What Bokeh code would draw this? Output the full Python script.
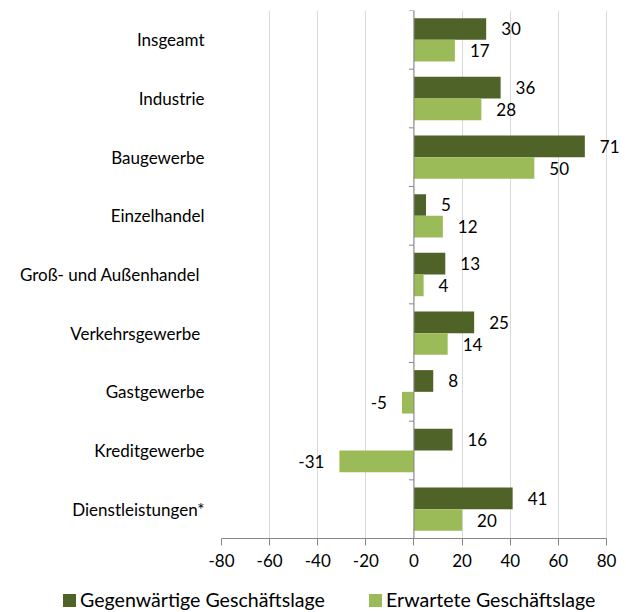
from bokeh.plotting import figure
from bokeh.layouts import column
from bokeh.models import (ColumnDataSource, LabelSet, Span, Div,
                          FixedTicker, Range1d, FactorRange)
from bokeh.transform import dodge
from bokeh.core.properties import value
from bokeh.embed import file_html
from bokeh.resources import INLINE

# ---------------- data ----------------
categories = ["Insgeamt", "Industrie", "Baugewerbe", "Einzelhandel",
              "Groß- und Außenhandel ", "Verkehrsgewerbe ", "Gastgewerbe",
              "Kreditgewerbe", "Dienstleistungen*"]
current = [30, 36, 71, 5, 13, 25, 8, 16, 41]
expected = [17, 28, 50, 12, 4, 14, -5, -31, 20]
x_ticks = [-80, -60, -40, -20, 0, 20, 40, 60, 80]
series_names = ["Gegenwärtige Geschäftslage", "Erwartete Geschäftslage"]

# ---------------- style ----------------
DARK = "#4F6228"
LIGHT = "#9BBB59"
AXIS = "#868686"
GRID = "#D9D9D9"
FONT = "Lato"
BAR_H = 0.37
OFF = BAR_H / 2
X_PAD = 7.9  # empty room right of the axis end for the value labels

p = figure(width=626, height=575, output_backend="svg", toolbar_location=None,
           x_range=Range1d(x_ticks[0], x_ticks[-1] + X_PAD),
           y_range=FactorRange(factors=list(reversed(categories))),
           min_border_left=221, min_border_right=1, min_border_top=10,
           min_border_bottom=37)
p.outline_line_color = None
p.background_fill_color = "white"

src = ColumnDataSource(dict(cat=categories, cur=current, exp=expected))

r1 = p.hbar(y=dodge("cat", OFF, range=p.y_range), left=0, right="cur",
            height=BAR_H, source=src, fill_color=DARK, line_color=None)
r2 = p.hbar(y=dodge("cat", -OFF, range=p.y_range), left=0, right="exp",
            height=BAR_H, source=src, fill_color=LIGHT, line_color=None)

# zero axis line with small ticks at category boundaries
p.add_layout(Span(location=0, dimension="height", line_color=AXIS, line_width=1))
p.segment(x0=-2.1, x1=0, y0=dodge("cat", 0.5, range=p.y_range),
          y1=dodge("cat", 0.5, range=p.y_range), source=src,
          line_color=AXIS, line_width=1)

# value labels
def add_labels(vals, off):
    for sign in (1, -1):
        cats = [c for c, v in zip(categories, vals) if (v >= 0) == (sign > 0)]
        vs = [v for v in vals if (v >= 0) == (sign > 0)]
        s = ColumnDataSource(dict(cat=cats, v=vs, t=[str(v) for v in vs]))
        p.add_layout(LabelSet(x="v", y=dodge("cat", off, range=p.y_range), text="t",
                              source=s, x_offset=15 * sign,
                              text_align="left" if sign > 0 else "right",
                              text_baseline="middle", text_font=value(FONT),
                              text_font_size="17px", text_color="black"))

add_labels(current, OFF)
add_labels(expected, -OFF)

# axes
p.xaxis.ticker = FixedTicker(ticks=x_ticks)
p.xaxis.bounds = (x_ticks[0], x_ticks[-1])
p.xaxis.major_label_overrides = {t: str(t) for t in x_ticks}
p.xaxis.axis_line_color = AXIS
p.xaxis.major_tick_line_color = AXIS
p.xaxis.major_tick_out = 7
p.xaxis.major_tick_in = 0
p.xaxis.minor_tick_line_color = None
p.xaxis.major_label_standoff = 8
p.xaxis.major_label_text_font = FONT
p.xaxis.major_label_text_font_size = "17px"
p.xaxis.major_label_text_color = "black"

p.yaxis.axis_line_color = None
p.yaxis.major_tick_line_color = None
p.yaxis.minor_tick_line_color = None
p.yaxis.major_label_standoff = 11
p.yaxis.major_label_text_font = FONT
p.yaxis.major_label_text_font_size = "17px"
p.yaxis.major_label_text_color = "black"

p.xgrid.grid_line_color = GRID
p.xgrid.ticker = FixedTicker(ticks=x_ticks)
p.ygrid.grid_line_color = None

# legend strip below the chart
legend_entries = list(zip(series_names, [DARK, LIGHT], [63, 369]))
parts = []
for name, color, left in legend_entries:
    parts.append(
        f'<span style="position:absolute;left:{left}px;top:19px;width:13px;'
        f'height:13px;background:{color};"></span>'
        f'<span style="position:absolute;left:{left + 17}px;top:13px;'
        f'line-height:24px;white-space:nowrap;">{name}</span>')
legend_div = Div(
    text=('<div style="position:relative;width:626px;height:37px;'
          f'font-family:{FONT};font-size:19.6px;color:#000;">' + "".join(parts) + '</div>'),
    width=626, height=37, margin=(0, 0, 0, 0))

open("out.html", "w").write(file_html(column(p, legend_div, spacing=0), INLINE))
